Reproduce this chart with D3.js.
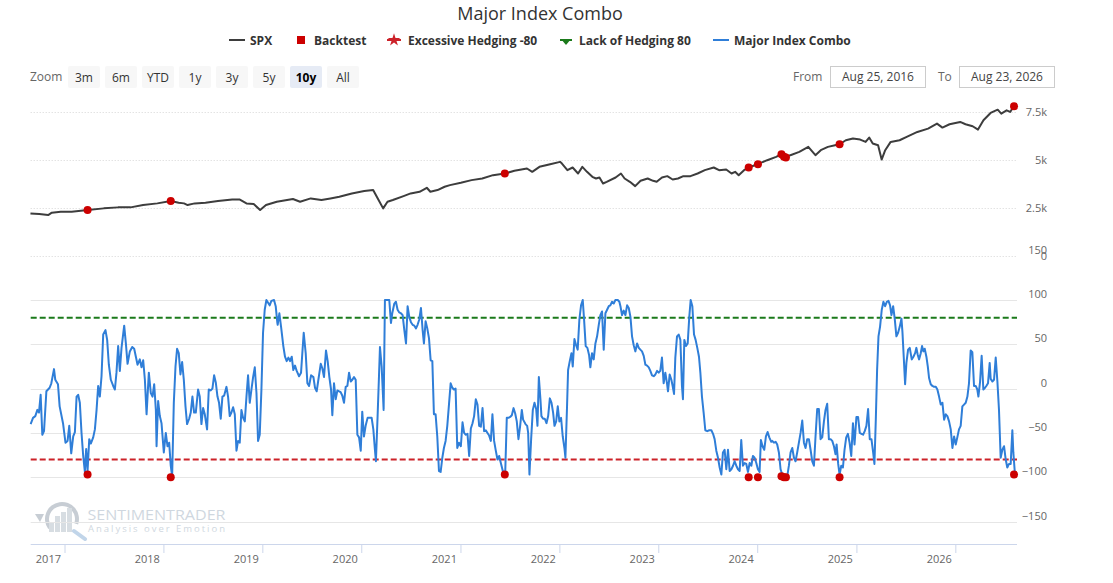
<!DOCTYPE html>
<html>
<head>
<meta charset="utf-8">
<script src="https://cdn.jsdelivr.net/npm/d3@7"></script>
<style>
  body { margin: 0; background: #fff; font-family: "Open Sans", sans-serif; }
  svg text { font-family: "Open Sans", sans-serif; }
  .grid-top line { stroke: #d6d6d6; stroke-dasharray: 1,2; }
  .grid-bottom line { stroke: #e6e6e6; }
  .axis-label { fill: #666; font-size: 11px; }
</style>
</head>
<body>
<svg id="chart" width="1113" height="583"></svg>
<script>
// values; dates as decimal years
var spxSeries = [
  [2016.658,2204],[2016.747,2170],[2016.837,2118],[2016.874,2240],[2016.964,2292],[2017.072,2292],
  [2017.234,2379],[2017.397,2465],[2017.541,2517],[2017.668,2517],[2017.794,2638],[2017.938,2725],
  [2018.075,2846],[2018.154,2760],[2018.208,2725],[2018.244,2638],[2018.316,2725],[2018.425,2760],
  [2018.551,2846],[2018.695,2932],[2018.768,2932],[2018.839,2725],[2018.912,2690],[2018.977,2379],
  [2019.037,2638],[2019.146,2811],[2019.309,2950],[2019.381,2811],[2019.489,2984],[2019.597,2898],
  [2019.688,2984],[2019.778,3070],[2019.904,3244],[2020.030,3365],[2020.120,3417],[2020.175,2898],
  [2020.221,2465],[2020.265,2811],[2020.319,2898],[2020.427,3105],[2020.499,3244],[2020.589,3330],
  [2020.662,3538],[2020.698,3330],[2020.770,3417],[2020.842,3590],[2020.896,3676],[2021.004,3797],
  [2021.112,3936],[2021.220,4022],[2021.329,4195],[2021.448,4282],[2021.545,4420],[2021.672,4541],
  [2021.725,4368],[2021.798,4628],[2021.906,4766],[2022.007,4887],[2022.026,4801],[2022.081,4455],
  [2022.134,4593],[2022.189,4282],[2022.232,4628],[2022.279,4368],[2022.333,4108],[2022.370,4022],
  [2022.405,4074],[2022.441,3762],[2022.478,3849],[2022.568,4074],[2022.622,4282],[2022.659,4022],
  [2022.712,3849],[2022.766,3624],[2022.820,3901],[2022.892,4022],[2022.947,3901],[2022.983,3849],
  [2023.037,4074],[2023.091,4143],[2023.145,3970],[2023.199,4022],[2023.253,4143],[2023.325,4143],
  [2023.397,4282],[2023.470,4455],[2023.560,4593],[2023.614,4455],[2023.686,4489],[2023.740,4282],
  [2023.776,4368],[2023.812,4195],[2023.866,4455],[2023.913,4593],[2024.003,4766],[2024.101,4974],
  [2024.191,5148],[2024.245,5286],[2024.281,5113],[2024.335,5234],[2024.425,5407],[2024.516,5667],
  [2024.588,5234],[2024.642,5494],[2024.714,5667],[2024.786,5753],[2024.833,5805],[2024.895,6013],
  [2024.967,6100],[2025.038,6048],[2025.093,5927],[2025.129,6152],[2025.165,5840],[2025.219,5753],
  [2025.255,5009],[2025.291,5494],[2025.346,5927],[2025.436,6013],[2025.508,6187],[2025.616,6446],
  [2025.724,6620],[2025.814,6880],[2025.869,6672],[2025.941,6845],[2026.049,6966],[2026.103,6845],
  [2026.175,6741],[2026.229,6568],[2026.284,7053],[2026.356,7434],[2026.428,7607],[2026.464,7399],
  [2026.518,7573],[2026.554,7486],[2026.590,7780]
];

var comboSeries = [
  [2016.660,-40],[2016.684,-33],[2016.707,-31],[2016.728,-24],[2016.744,-27],[2016.761,-7],
  [2016.778,-52],[2016.795,-48],[2016.819,-3],[2016.852,1],[2016.869,6],[2016.896,22],
  [2016.909,10],[2016.936,5],[2016.953,-20],[2016.987,-39],[2017.010,-61],[2017.031,-59],
  [2017.048,-42],[2017.068,-73],[2017.088,-54],[2017.105,-49],[2017.122,-9],[2017.138,-7],
  [2017.155,-16],[2017.172,-50],[2017.189,-76],[2017.206,-94],[2017.219,-68],[2017.233,-93],
  [2017.250,-57],[2017.266,-62],[2017.290,-55],[2017.307,-46],[2017.324,-24],[2017.340,3],
  [2017.357,-9],[2017.374,14],[2017.391,61],[2017.414,66],[2017.431,55],[2017.448,27],
  [2017.468,10],[2017.492,3],[2017.509,-1],[2017.525,18],[2017.542,48],[2017.559,20],
  [2017.576,46],[2017.603,71],[2017.620,51],[2017.637,28],[2017.660,42],[2017.684,47],
  [2017.704,45],[2017.721,36],[2017.738,27],[2017.761,33],[2017.778,24],[2017.795,32],
  [2017.812,10],[2017.829,-29],[2017.852,18],[2017.872,-5],[2017.889,-9],[2017.906,5],
  [2017.923,-24],[2017.930,-65],[2017.946,-14],[2017.963,-31],[2017.980,-39],[2018.004,-72],
  [2018.024,-50],[2018.041,-65],[2018.058,-61],[2018.074,-87],[2018.088,-99],[2018.105,-16],
  [2018.122,25],[2018.138,45],[2018.155,40],[2018.172,16],[2018.189,30],[2018.206,10],
  [2018.223,-20],[2018.239,-40],[2018.260,-34],[2018.276,-27],[2018.293,-9],[2018.310,-27],
  [2018.327,-27],[2018.350,-1],[2018.367,-9],[2018.384,-40],[2018.401,-22],[2018.418,-29],
  [2018.441,-46],[2018.458,-1],[2018.478,-2],[2018.495,0],[2018.512,15],[2018.529,7],
  [2018.546,-9],[2018.562,-16],[2018.579,-34],[2018.596,-9],[2018.613,-8],[2018.637,2],
  [2018.653,-9],[2018.670,-31],[2018.687,-27],[2018.704,-21],[2018.721,-29],[2018.738,-70],
  [2018.754,-59],[2018.771,-61],[2018.788,-24],[2018.805,-33],[2018.822,-37],[2018.839,-9],
  [2018.855,15],[2018.872,-16],[2018.889,-1],[2018.906,13],[2018.923,24],[2018.940,-5],
  [2018.956,-59],[2018.973,-52],[2018.990,-1],[2019.007,63],[2019.024,89],[2019.041,100],
  [2019.058,97],[2019.074,94],[2019.091,99],[2019.118,100],[2019.135,93],[2019.152,74],
  [2019.155,72],[2019.172,85],[2019.189,70],[2019.212,48],[2019.229,36],[2019.246,31],
  [2019.263,35],[2019.280,31],[2019.297,36],[2019.313,21],[2019.330,26],[2019.347,20],
  [2019.371,14],[2019.391,18],[2019.404,40],[2019.418,63],[2019.438,40],[2019.455,6],
  [2019.472,3],[2019.492,15],[2019.516,13],[2019.532,1],[2019.549,-3],[2019.566,10],
  [2019.590,28],[2019.606,23],[2019.623,13],[2019.643,43],[2019.660,31],[2019.677,13],
  [2019.694,-1],[2019.707,-30],[2019.724,6],[2019.741,-12],[2019.758,-2],[2019.775,-3],
  [2019.791,-4],[2019.808,-8],[2019.825,-16],[2019.842,2],[2019.859,3],[2019.876,18],
  [2019.893,8],[2019.909,10],[2019.926,13],[2019.943,10],[2019.960,-52],[2019.977,-55],
  [2019.994,-70],[2020.010,-26],[2020.027,-54],[2020.044,-42],[2020.064,-33],[2020.088,-33],
  [2020.105,-33],[2020.122,-46],[2020.138,-69],[2020.148,-82],[2020.165,-31],[2020.179,14],
  [2020.189,47],[2020.206,25],[2020.226,-24],[2020.239,100],[2020.263,100],[2020.283,100],
  [2020.300,74],[2020.313,85],[2020.334,96],[2020.350,98],[2020.367,89],[2020.384,86],
  [2020.401,85],[2020.418,83],[2020.435,66],[2020.452,51],[2020.468,93],[2020.485,81],
  [2020.502,75],[2020.519,72],[2020.536,71],[2020.553,68],[2020.569,72],[2020.586,78],
  [2020.603,91],[2020.620,66],[2020.633,51],[2020.650,76],[2020.667,68],[2020.684,57],
  [2020.701,32],[2020.718,31],[2020.734,-29],[2020.751,-29],[2020.768,-54],[2020.785,-93],
  [2020.802,-94],[2020.819,-78],[2020.835,-67],[2020.852,-59],[2020.869,-42],[2020.886,-18],
  [2020.903,6],[2020.920,1],[2020.936,-1],[2020.953,0],[2020.970,-67],[2020.987,-61],
  [2021.004,-65],[2021.021,-38],[2021.037,-50],[2021.054,-52],[2021.071,-51],[2021.088,-76],
  [2021.105,-45],[2021.122,-39],[2021.138,-31],[2021.155,-12],[2021.172,-18],[2021.189,-42],
  [2021.206,-43],[2021.223,-22],[2021.239,-48],[2021.256,-47],[2021.273,-50],[2021.290,-53],
  [2021.307,-59],[2021.323,-29],[2021.340,-59],[2021.357,-70],[2021.374,-80],[2021.391,-76],
  [2021.408,-84],[2021.428,-93],[2021.452,-96],[2021.468,-33],[2021.485,-33],[2021.502,-32],
  [2021.519,-30],[2021.536,-22],[2021.553,-28],[2021.569,-37],[2021.586,-57],[2021.603,-42],
  [2021.620,-24],[2021.633,-35],[2021.657,-40],[2021.674,-42],[2021.684,-50],[2021.697,-97],
  [2021.714,-57],[2021.731,-24],[2021.748,-16],[2021.765,-23],[2021.778,-42],[2021.792,13],
  [2021.808,-12],[2021.818,-31],[2021.835,-34],[2021.852,-34],[2021.869,-39],[2021.886,-31],
  [2021.903,-11],[2021.920,-16],[2021.936,-27],[2021.950,-42],[2021.967,-37],[2021.983,-20],
  [2022.000,-37],[2022.017,-33],[2022.034,-54],[2022.051,-67],[2022.061,-78],[2022.078,-18],
  [2022.088,21],[2022.105,31],[2022.122,40],[2022.135,25],[2022.152,56],[2022.169,49],
  [2022.185,44],[2022.202,78],[2022.219,94],[2022.236,100],[2022.249,79],[2022.266,48],
  [2022.283,46],[2022.300,38],[2022.313,24],[2022.330,40],[2022.347,33],[2022.364,51],
  [2022.381,59],[2022.398,72],[2022.414,83],[2022.431,87],[2022.448,44],[2022.465,85],
  [2022.482,89],[2022.499,93],[2022.515,94],[2022.532,98],[2022.549,96],[2022.566,100],
  [2022.590,100],[2022.606,98],[2022.617,93],[2022.633,83],[2022.650,88],[2022.667,83],
  [2022.684,94],[2022.701,91],[2022.718,81],[2022.734,59],[2022.751,49],[2022.768,42],
  [2022.785,51],[2022.802,46],[2022.818,44],[2022.835,42],[2022.852,37],[2022.869,27],
  [2022.886,26],[2022.903,24],[2022.919,20],[2022.936,15],[2022.953,14],[2022.970,16],
  [2022.987,20],[2023.004,18],[2023.020,20],[2023.037,35],[2023.054,6],[2023.071,18],
  [2023.088,6],[2023.098,-3],[2023.115,16],[2023.132,10],[2023.145,3],[2023.159,-6],
  [2023.172,35],[2023.189,59],[2023.206,61],[2023.223,55],[2023.239,3],[2023.249,-12],
  [2023.263,55],[2023.280,48],[2023.297,51],[2023.313,81],[2023.327,100],[2023.344,93],
  [2023.361,61],[2023.377,55],[2023.394,46],[2023.411,36],[2023.425,18],[2023.441,-9],
  [2023.458,-27],[2023.475,-47],[2023.495,-48],[2023.515,-47],[2023.536,-47],[2023.553,-51],
  [2023.569,-57],[2023.586,-70],[2023.603,-78],[2023.620,-89],[2023.637,-97],[2023.653,-72],
  [2023.670,-69],[2023.687,-91],[2023.704,-69],[2023.721,-93],[2023.738,-91],[2023.755,-87],
  [2023.771,-82],[2023.788,-87],[2023.805,-91],[2023.822,-93],[2023.838,-58],[2023.855,-87],
  [2023.872,-84],[2023.889,-85],[2023.906,-94],[2023.923,-84],[2023.940,-87],[2023.956,-76],
  [2023.973,-78],[2023.990,-84],[2024.007,-91],[2024.024,-94],[2024.037,-58],[2024.054,-65],
  [2024.071,-69],[2024.088,-54],[2024.105,-49],[2024.122,-55],[2024.142,-60],[2024.152,-59],
  [2024.169,-61],[2024.186,-60],[2024.202,-63],[2024.219,-72],[2024.236,-91],[2024.253,-97],
  [2024.270,-99],[2024.287,-98],[2024.303,-99],[2024.320,-87],[2024.337,-72],[2024.354,-67],
  [2024.371,-78],[2024.387,-82],[2024.404,-72],[2024.421,-61],[2024.438,-50],[2024.455,-36],
  [2024.472,-61],[2024.488,-67],[2024.505,-57],[2024.522,-57],[2024.539,-69],[2024.556,-82],
  [2024.573,-87],[2024.589,-54],[2024.606,-23],[2024.623,-23],[2024.640,-57],[2024.657,-55],
  [2024.674,-37],[2024.690,-24],[2024.707,-17],[2024.724,-57],[2024.741,-57],[2024.758,-59],
  [2024.775,-65],[2024.791,-74],[2024.802,-63],[2024.818,-85],[2024.832,-97],[2024.849,-87],
  [2024.866,-89],[2024.882,-69],[2024.899,-55],[2024.916,-51],[2024.933,-61],[2024.950,-76],
  [2024.967,-39],[2024.983,-63],[2025.000,-32],[2025.017,-32],[2025.034,-50],[2025.051,-51],
  [2025.068,-52],[2025.084,-48],[2025.101,-42],[2025.118,-23],[2025.135,-57],[2025.152,-57],
  [2025.169,-72],[2025.182,-85],[2025.196,-35],[2025.209,21],[2025.223,59],[2025.239,70],
  [2025.256,89],[2025.273,98],[2025.290,93],[2025.307,98],[2025.324,99],[2025.340,94],
  [2025.354,83],[2025.371,93],[2025.387,79],[2025.404,59],[2025.421,63],[2025.438,70],
  [2025.455,79],[2025.465,64],[2025.478,36],[2025.492,5],[2025.505,29],[2025.522,44],
  [2025.539,46],[2025.559,33],[2025.576,36],[2025.593,40],[2025.606,46],[2025.620,38],
  [2025.633,33],[2025.650,40],[2025.663,48],[2025.677,42],[2025.690,45],[2025.707,36],
  [2025.721,25],[2025.734,12],[2025.751,5],[2025.768,3],[2025.785,2],[2025.802,2],
  [2025.818,-1],[2025.835,-9],[2025.852,-18],[2025.869,-16],[2025.886,-35],[2025.903,-29],
  [2025.919,-31],[2025.936,-37],[2025.953,-46],[2025.970,-67],[2025.987,-54],[2026.004,-63],
  [2026.020,-55],[2026.037,-46],[2026.054,-42],[2026.071,-20],[2026.088,-18],[2026.105,-16],
  [2026.122,-9],[2026.138,6],[2026.155,43],[2026.172,41],[2026.189,3],[2026.206,3],
  [2026.222,-1],[2026.233,-9],[2026.250,8],[2026.266,37],[2026.283,-1],[2026.300,1],
  [2026.313,3],[2026.330,6],[2026.347,29],[2026.357,11],[2026.374,8],[2026.391,10],
  [2026.408,35],[2026.425,8],[2026.441,-24],[2026.458,-78],[2026.475,-69],[2026.492,-65],
  [2026.509,-80],[2026.525,-89],[2026.542,-85],[2026.559,-85],[2026.576,-47],[2026.586,-72],
  [2026.600,-93]
];

var backtestYears = [2017.233, 2018.074, 2021.448, 2023.913, 2024.007, 2024.245, 2024.270, 2024.290, 2024.832, 2026.593];
var backtestSpx = [2379, 2846, 4282, 4593, 4766, 5286, 5160, 5113, 5805, 7780];
var backtestCombo = [-97, -100, -97, -100, -100, -99, -100, -100, -100, -97];

var excessiveHedging = -80;
var lackOfHedging = 80;

var spxTicks = [0, 2500, 5000, 7500];
var spxTickLabels = ['0', '2.5k', '5k', '7.5k'];
var comboTicks = [-150, -100, -50, 0, 50, 100, 150];

var zoomButtons = ['3m', '6m', 'YTD', '1y', '3y', '5y', '10y', 'All'];
var selectedZoom = '10y';
var fromDate = 'Aug 25, 2016';
var toDate = 'Aug 23, 2026';

var colors = {
    spx: '#3d3d3d',
    backtest: '#cc0000',
    excessive: '#cc2229',
    lack: '#1b7a1b',
    combo: '#2f7ed8'
};

function yearToDate(y) {
    var yr = Math.floor(y);
    return new Date(Date.UTC(yr, 0, 1) + (y - yr) * 365.25 * 864e5);
}

var svg = d3.select('#chart');

var x = d3.scaleUtc()
    .domain([yearToDate(2016.6606), yearToDate(2026.623)])
    .range([30.7, 1017]);
var ySpx = d3.scaleLinear().domain([0, 7500]).range([255.7, 111.7]);
var yCombo = d3.scaleLinear().domain([-175, 150]).range([543.7, 255.7]);

// title
svg.append('text')
    .attr('x', 540)
    .attr('y', 20)
    .attr('text-anchor', 'middle')
    .style('font-size', '18px')
    .style('fill', '#333')
    .text('Major Index Combo');

// legend
var legend = svg.append('g').attr('class', 'legend');
var legendItems = [
    { name: 'SPX', type: 'line', color: colors.spx, x: 229 },
    { name: 'Backtest', type: 'square', color: colors.backtest, x: 297 },
    { name: 'Excessive Hedging -80', type: 'star', color: colors.excessive, x: 387 },
    { name: 'Lack of Hedging 80', type: 'tri', color: colors.lack, x: 560 },
    { name: 'Major Index Combo', type: 'line', color: colors.combo, x: 713 }
];
legendItems.forEach(function(d) {
    var g = legend.append('g').attr('transform', 'translate(' + d.x + ',40)');
    var tx = 21;
    if (d.type == 'line') {
        g.append('line').attr('x1', 0).attr('x2', 16).attr('y1', 0).attr('y2', 0)
            .attr('stroke', d.color).attr('stroke-width', 2);
    } else if (d.type == 'square') {
        g.append('rect').attr('x', 0).attr('y', -4).attr('width', 8).attr('height', 8).attr('fill', d.color);
        tx = 17;
    } else if (d.type == 'star') {
        g.append('line').attr('x1', 0).attr('x2', 14).attr('y1', 0).attr('y2', 0)
            .attr('stroke', d.color).attr('stroke-width', 2);
        g.append('path').attr('d', d3.symbol(d3.symbolStar, 50)()).attr('transform', 'translate(7,0)').attr('fill', d.color);
    } else {
        g.append('line').attr('x1', 0).attr('x2', 12).attr('y1', 0).attr('y2', 0)
            .attr('stroke', d.color).attr('stroke-width', 2);
        g.append('path').attr('d', 'M1,-1 L11,-1 L6,5 Z').attr('fill', d.color);
        tx = 19;
    }
    g.append('text')
        .attr('x', tx)
        .attr('y', 4.5)
        .style('font-size', '12px')
        .style('font-weight', 'bold')
        .style('fill', '#333')
        .text(d.name);
});

// range selector
svg.append('text').attr('x', 30).attr('y', 81).style('font-size', '12px').style('fill', '#666').text('Zoom');
var btn = svg.selectAll('.zoom-btn')
        .data(zoomButtons)
    .enter().append('g')
        .classed('zoom-btn', true)
        .attr('transform', function(d, i) { return 'translate(' + (68 + i * 37) + ',66)'; });
btn.append('rect')
    .attr('width', 32).attr('height', 22).attr('rx', 2)
    .attr('fill', function(d) { return d == selectedZoom ? '#e6ebf5' : '#f7f7f7'; });
btn.append('text')
    .attr('x', 16).attr('y', 15.5)
    .attr('text-anchor', 'middle')
    .style('font-size', '12px')
    .style('font-weight', function(d) { return d == selectedZoom ? 'bold' : 'normal'; })
    .style('fill', function(d) { return d == selectedZoom ? '#000' : '#333'; })
    .text(function(d) { return d; });

function dateBox(label, value, lx, bx) {
    svg.append('text').attr('x', lx).attr('y', 81).style('font-size', '12px').style('fill', '#666').text(label);
    svg.append('rect').attr('x', bx).attr('y', 66.5).attr('width', 95).attr('height', 21)
        .attr('fill', '#fff').attr('stroke', '#cccccc');
    svg.append('text').attr('x', bx + 47.5).attr('y', 81).attr('text-anchor', 'middle')
        .style('font-size', '12px').style('fill', '#444').text(value);
}
dateBox('From', fromDate, 793, 830.5);
dateBox('To', toDate, 938, 959.5);

// watermark
var wm = svg.append('g').attr('class', 'watermark').attr('opacity', 0.55);
wm.append('path')
    .attr('d', d3.arc().innerRadius(13).outerRadius(17).startAngle(-2.2).endAngle(1.9)())
    .attr('transform', 'translate(62,519)')
    .attr('fill', '#9aa6b2');
wm.append('path').attr('d', 'M35,514 L44,514 L40,522 Z').attr('fill', '#9aa6b2');
[[49, 10], [55, 16], [61, 20], [67, 24]].forEach(function(b) {
    wm.append('rect').attr('x', b[0]).attr('y', 532 - b[1]).attr('width', 5).attr('height', b[1]).attr('fill', '#b8c2cc');
});
wm.append('line').attr('x1', 74).attr('y1', 531).attr('x2', 85).attr('y2', 539)
    .attr('stroke', '#8fb3d8').attr('stroke-width', 4).attr('stroke-linecap', 'round');
wm.append('text').attr('x', 87.5).attr('y', 520)
    .attr('textLength', 138).attr('lengthAdjust', 'spacingAndGlyphs')
    .style('font-size', '15px').style('fill', '#a9b7c6').text('SENTIMENTRADER');
wm.append('text').attr('x', 88).attr('y', 532)
    .attr('textLength', 137).attr('lengthAdjust', 'spacing')
    .style('font-size', '9.5px').style('fill', '#a9b7c6').text('Analysis over Emotion');

// gridlines
svg.append('g').classed('grid-top', true).selectAll('line')
        .data(spxTicks)
    .enter().append('line')
        .attr('x1', 30.7).attr('x2', 1017)
        .attr('y1', function(d) { return Math.round(ySpx(d)) + 0.5; })
        .attr('y2', function(d) { return Math.round(ySpx(d)) + 0.5; });
svg.append('g').classed('grid-bottom', true).selectAll('line')
        .data(comboTicks.filter(function(d) { return d < 150; }))
    .enter().append('line')
        .attr('x1', 30.7).attr('x2', 1017)
        .attr('y1', function(d) { return Math.round(yCombo(d)) + 0.5; })
        .attr('y2', function(d) { return Math.round(yCombo(d)) + 0.5; });

// y axis labels
var spxAxis = svg.append('g')
    .attr('transform', 'translate(1047,0)')
    .call(d3.axisLeft(ySpx).tickValues(spxTicks).tickSize(0).tickPadding(0)
        .tickFormat(function(d, i) { return spxTickLabels[i]; }));
spxAxis.select('.domain').remove();
spxAxis.selectAll('text').attr('class', 'axis-label').attr('dy', '0.32em')
    .style('font-family', '"Open Sans", sans-serif').style('font-size', '11px').attr('fill', '#666');

var comboAxis = svg.append('g')
    .attr('transform', 'translate(1047,0)')
    .call(d3.axisLeft(yCombo).tickValues(comboTicks).tickSize(0).tickPadding(0));
comboAxis.select('.domain').remove();
comboAxis.selectAll('text').attr('class', 'axis-label').attr('dy', '-2.5')
    .style('font-family', '"Open Sans", sans-serif').style('font-size', '11px').attr('fill', '#666');

// x axis
var xAxis = svg.append('g')
    .attr('transform', 'translate(0,544)')
    .call(d3.axisBottom(x).ticks(d3.utcYear.every(1)).tickSize(9).tickFormat(d3.utcFormat('%Y')));
xAxis.select('.domain').attr('d', 'M30.7,0.5H1017').attr('stroke', '#ccd6eb');
xAxis.selectAll('.tick line').attr('stroke', '#ccd6eb');
xAxis.selectAll('.tick text')
    .attr('text-anchor', 'end')
    .attr('x', -4)
    .attr('y', 15)
    .attr('dy', '0.32em')
    .style('font-family', '"Open Sans", sans-serif')
    .style('font-size', '11px')
    .attr('fill', '#666');

// threshold lines
[[excessiveHedging, colors.excessive], [lackOfHedging, colors.lack]].forEach(function(t) {
    svg.append('line')
        .attr('x1', 30.7).attr('x2', 1017)
        .attr('y1', yCombo(t[0])).attr('y2', yCombo(t[0]))
        .attr('stroke', t[1])
        .attr('stroke-width', 2)
        .attr('stroke-dasharray', '6,3');
});

// SPX
var spxLine = d3.line()
    .x(function(d) { return x(yearToDate(d[0])); })
    .y(function(d) { return ySpx(d[1]); });
svg.append('path')
    .datum(spxSeries)
    .attr('d', spxLine)
    .attr('fill', 'none')
    .attr('stroke', colors.spx)
    .attr('stroke-width', 2)
    .attr('stroke-linejoin', 'round');

// Combo
var comboLine = d3.line()
    .x(function(d) { return x(yearToDate(d[0])); })
    .y(function(d) { return yCombo(d[1]); });
svg.append('path')
    .datum(comboSeries)
    .attr('d', comboLine)
    .attr('fill', 'none')
    .attr('stroke', colors.combo)
    .attr('stroke-width', 2)
    .attr('stroke-linejoin', 'round');

// backtest dots
svg.append('g').selectAll('circle')
        .data(backtestYears)
    .enter().append('circle')
        .attr('cx', function(d) { return x(yearToDate(d)); })
        .attr('cy', function(d, i) { return ySpx(backtestSpx[i]); })
        .attr('r', 4)
        .attr('fill', colors.backtest);
svg.append('g').selectAll('circle')
        .data(backtestYears)
    .enter().append('circle')
        .attr('cx', function(d) { return x(yearToDate(d)); })
        .attr('cy', function(d, i) { return yCombo(backtestCombo[i]); })
        .attr('r', 4)
        .attr('fill', colors.backtest);
</script>
</body>
</html>
